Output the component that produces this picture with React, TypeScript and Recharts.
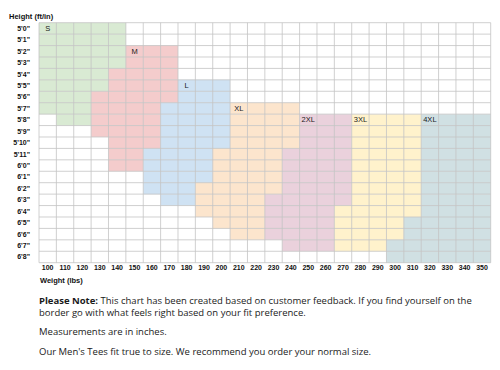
import React from 'react';
import { ComposedChart, XAxis, YAxis, ReferenceArea, ReferenceLine, Scatter } from 'recharts';

// weights (lbs), column centers
const weights = [100,110,120,130,140,150,160,170,180,190,200,210,220,230,240,250,260,270,280,290,300,310,320,330,340,350];
// heights in inches (5'0" .. 6'8")
const heights = [60,61,62,63,64,65,66,67,68,69,70,71,72,73,74,75,76,77,78,79,80];

// each size: rows of [height inches, first weight, last weight]
const sizeS: [number, number, number][] = [[60,100,140],[61,100,140],[62,100,140],[63,100,140],[64,100,130],[65,100,130],[66,100,120],[67,100,120],[68,110,120]];
const sizeM: [number, number, number][] = [[62,150,170],[63,150,170],[64,140,170],[65,140,170],[66,130,170],[67,130,160],[68,130,160],[69,130,160],[70,140,160],[71,140,150],[72,140,150]];
const sizeL: [number, number, number][] = [[65,180,200],[66,180,200],[67,170,200],[68,170,200],[69,170,200],[70,170,200],[71,160,190],[72,160,190],[73,160,190],[74,160,180],[75,170,180]];
const sizeXL: [number, number, number][] = [[67,210,240],[68,210,240],[69,210,240],[70,210,240],[71,200,230],[72,200,230],[73,200,230],[74,190,230],[75,190,220],[76,190,220],[77,200,220],[78,210,220]];
const size2XL: [number, number, number][] = [[68,250,270],[69,250,270],[70,250,270],[71,240,270],[72,240,270],[73,240,270],[74,240,270],[75,230,270],[76,230,260],[77,230,260],[78,230,260],[79,240,260]];
const size3XL: [number, number, number][] = [[68,280,310],[69,280,310],[70,280,310],[71,280,310],[72,280,310],[73,280,310],[74,280,310],[75,280,310],[76,270,310],[77,270,300],[78,270,300],[79,270,290]];
const size4XL: [number, number, number][] = [[68,320,350],[69,320,350],[70,320,350],[71,320,350],[72,320,350],[73,320,350],[74,320,350],[75,320,350],[76,320,350],[77,310,350],[78,310,350],[79,300,350],[80,300,350]];

const sizeNames = ['S','M','L','XL','2XL','3XL','4XL'];
const sizeColors = ['#d9ead3','#f4cccc','#cfe2f3','#fce5cd','#ead1dc','#fff2cc','#d0e0e3'];
const sizeRows = [sizeS, sizeM, sizeL, sizeXL, size2XL, size3XL, size4XL];
// label cell (weight, height)
const labelWeights = [100,150,180,210,250,280,320];
const labelHeights = [60,62,65,67,68,68,68];

const labelData = sizeNames.map((n, i) => ({ w: labelWeights[i], h: labelHeights[i], name: n }));

const gridX = [...weights.map(w => w - 5), weights[weights.length - 1] + 5];
const gridY = [...heights.map(h => h - 0.5), heights[heights.length - 1] + 0.5];

const fmtHeight = (v: number) => `${Math.floor(v / 12)}'${v % 12}"`;

const tickStyle = { fontSize: 7, fontWeight: 700, fill: '#111', fontFamily: 'Liberation Sans, Arial, sans-serif' };

const LabelShape = (props: any) => {
  const { cx, cy, payload } = props;
  return (
    <text x={cx} y={cy} textAnchor="middle" dominantBaseline="central" fontSize={7.5}
      fontFamily="Liberation Sans, Arial, sans-serif" fill="#1a1a1a">{payload.name}</text>
  );
};

export default function App() {
  return (
    <div style={{ position: 'absolute', left: 0, top: 0, width: 500, height: 370, background: '#fff' }}>
      <div style={{ position: 'absolute', left: 9, top: 12, fontSize: 7.5, fontWeight: 700, fontFamily: 'Liberation Sans, Arial, sans-serif', color: '#111' }}>Height (ft/in)</div>
      <div style={{ position: 'absolute', left: 40, top: 276, fontSize: 7.5, fontWeight: 700, fontFamily: 'Liberation Sans, Arial, sans-serif', color: '#111' }}>Weight (lbs)</div>
      <div style={{ position: 'absolute', left: 0, top: 0 }}>
        <ComposedChart width={500} height={290} margin={{ top: 22.7, right: 9.3, left: 0, bottom: 7.3 }} data={labelData}>
          <XAxis type="number" dataKey="w" domain={[95, 355]} ticks={weights} interval={0}
            axisLine={false} tickLine={false} tickSize={1} tickMargin={1} tick={tickStyle} height={20} allowDataOverflow />
          <YAxis type="number" dataKey="h" domain={[59.5, 80.5]} ticks={heights} interval={0} reversed
            axisLine={false} tickLine={false} tickSize={6} tickMargin={3} tick={tickStyle} width={39}
            tickFormatter={fmtHeight} allowDataOverflow />
          {sizeRows.map((rows, si) => rows.map(([h, a, b]) => (
            <ReferenceArea key={`a-${si}-${h}`} x1={a - 5} x2={b + 5} y1={h - 0.5} y2={h + 0.5}
              fill={sizeColors[si]} fillOpacity={1} stroke="none" />
          )))}
          {gridX.map(x => (
            <ReferenceLine key={`gx-${x}`} x={x} stroke="#c4c4c4" strokeWidth={0.8} />
          ))}
          {gridY.map(y => (
            <ReferenceLine key={`gy-${y}`} y={y} stroke="#c4c4c4" strokeWidth={0.8} />
          ))}
          <Scatter dataKey="h" data={labelData} shape={LabelShape} isAnimationActive={false} />
        </ComposedChart>
      </div>
      <div style={{ position: 'absolute', left: 39, top: 295, width: 460, fontSize: 9.5, lineHeight: '11.6px', fontFamily: '"Open Sans", sans-serif', color: '#1a1a1a' }}>
        <b>Please Note:</b> This chart has been created based on customer feedback. If you find yourself on the<br />border go with what feels right based on your fit preference.
      </div>
      <div style={{ position: 'absolute', left: 39, top: 326, fontSize: 9.5, lineHeight: '11.6px', fontFamily: '"Open Sans", sans-serif', color: '#1a1a1a' }}>
        Measurements are in inches.
      </div>
      <div style={{ position: 'absolute', left: 39, top: 346, fontSize: 9.5, lineHeight: '11.6px', fontFamily: '"Open Sans", sans-serif', color: '#1a1a1a' }}>
        Our Men's Tees fit true to size. We recommend you order your normal size.
      </div>
    </div>
  );
}
